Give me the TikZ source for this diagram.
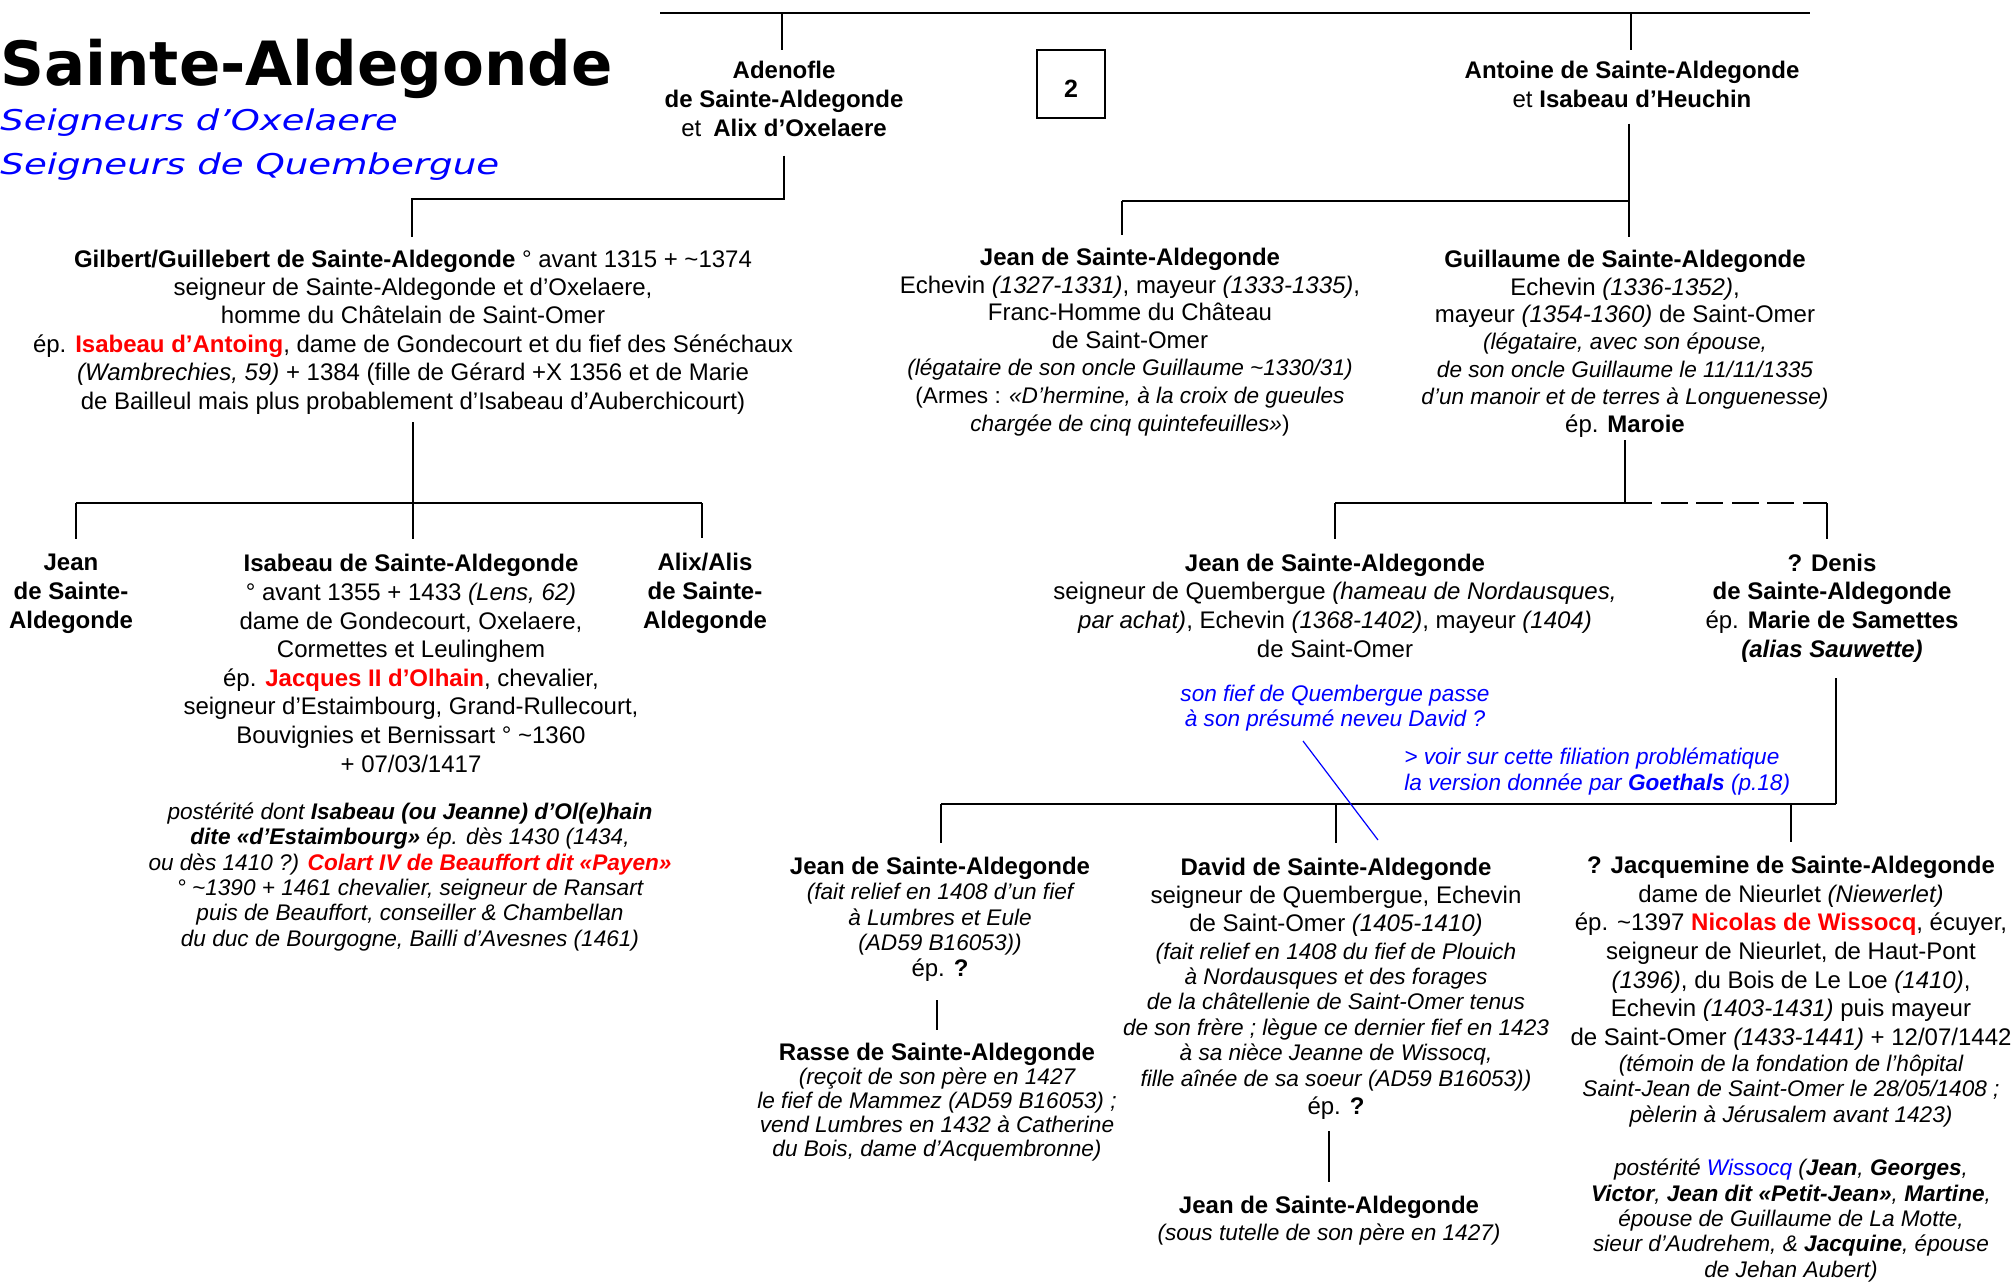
\documentclass[tikz,border=0pt]{standalone}
\usepackage{fontspec}
\usepackage{graphicx}
\setmainfont{Liberation Sans}
\newfontfamily\titlebold{DejaVu Sans Bold}
\newfontfamily\titleital{DejaVu Sans Oblique}
\definecolor{rd}{RGB}{255,0,0}
\definecolor{bl}{RGB}{0,0,255}
\newcommand\sm[1]{{\fontsize{11.3}{12.65}\selectfont\itshape #1}}
\begin{document}
\begin{tikzpicture}[x=0.5pt,y=-0.5pt,
  line/.style={line width=1.3pt},
  person/.style={align=center,anchor=base,inner sep=0pt,font=\fontsize{12}{14.3}\selectfont},
  note/.style={align=center,anchor=base,inner sep=0pt,font=\fontsize{11.3}{12.65}\selectfont\itshape},
  bluenote/.style={note,text=bl},
]
\path[use as bounding box] (0,0) rectangle (2013,1281);

% ---------- titles ----------
\node[anchor=base west,inner sep=0pt,font=\titlebold\fontsize{30.5}{36}\selectfont] (title) at (0,85) {Sainte-Aldegonde};
\node[anchor=base west,inner sep=0pt,text=bl,font=\titleital\fontsize{14.3}{17}\selectfont] (sub1) at (0,130) {\scalebox{1.29}[1]{Seigneurs d’Oxelaere}};
\node[anchor=base west,inner sep=0pt,text=bl,font=\titleital\fontsize{14.3}{17}\selectfont] (sub2) at (0,174) {\scalebox{1.3}[1]{Seigneurs de Quembergue}};
\node[draw,line width=0.8pt,minimum width=34pt,minimum height=34pt,inner sep=0pt] (box2) at (1071,84) {};
\node[inner sep=0pt,font=\bfseries\fontsize{12.5}{14}\selectfont] (box2t) at ([yshift=-2.5pt]box2.center) {2};

% ---------- generation 1 (anchor = baseline of last line) ----------
\node[person] (adenofle) at (784,136) {\textbf{Adenofle}\\\textbf{de Sainte-Aldegonde}\\et\enspace\textbf{Alix d’Oxelaere}};
\node[person] (antoine) at (1632,107) {\textbf{Antoine de Sainte-Aldegonde}\\et \textbf{Isabeau d’Heuchin}};

% ---------- generation 2 ----------
\node[person,font=\fontsize{12}{14.2}\selectfont] (gilbert) at (413,409) {\textbf{Gilbert/Guillebert de Sainte-Aldegonde} ° avant 1315 + \textasciitilde1374\\
seigneur de Sainte-Aldegonde et d’Oxelaere,\\
homme du Châtelain de Saint-Omer\\
ép. \textcolor{rd}{\textbf{Isabeau d’Antoing}}, dame de Gondecourt et du fief des Sénéchaux\\
\textit{(Wambrechies, 59)} + 1384 (fille de Gérard +X 1356 et de Marie\\
de Bailleul mais plus probablement d’Isabeau d’Auberchicourt)};

\node[person,font=\fontsize{12}{13.8}\selectfont] (jeanA) at (1130,431) {\textbf{Jean de Sainte-Aldegonde}\\
Echevin \textit{(1327-1331)}, mayeur \textit{(1333-1335)},\\
Franc-Homme du Château\\
de Saint-Omer\\
\sm{(légataire de son oncle Guillaume \textasciitilde1330/31)}\\
\sm{\upshape(Armes : \itshape«D’hermine, à la croix de gueules}\\
\sm{chargée de cinq quintefeuilles»\upshape)}};

\node[person,font=\fontsize{12}{13.7}\selectfont] (guil) at (1625,432) {\textbf{Guillaume de Sainte-Aldegonde}\\
Echevin \textit{(1336-1352)},\\
mayeur \textit{(1354-1360)} de Saint-Omer\\
\sm{(légataire, avec son épouse,}\\
\sm{de son oncle Guillaume le 11/11/1335}\\
\sm{d’un manoir et de terres à Longuenesse)}\\
ép. \textbf{Maroie}};

% ---------- generation 3 ----------
\node[person] (jean1) at (71,628) {\textbf{Jean}\\\textbf{de Sainte-}\\\textbf{Aldegonde}};
\node[person] (isabeau) at (411,772) {\textbf{Isabeau de Sainte-Aldegonde}\\
° avant 1355 + 1433 \textit{(Lens, 62)}\\
dame de Gondecourt, Oxelaere,\\
Cormettes et Leulinghem\\
ép. \textcolor{rd}{\textbf{Jacques II d’Olhain}}, chevalier,\\
seigneur d’Estaimbourg, Grand-Rullecourt,\\
Bouvignies et Bernissart ° \textasciitilde1360\\
+ 07/03/1417};
\node[person] (alix) at (705,628) {\textbf{Alix/Alis}\\\textbf{de Sainte-}\\\textbf{Aldegonde}};

\node[note] (post1) at (410,946) {postérité dont \textbf{Isabeau (ou Jeanne) d’Ol(e)hain}\\
\textbf{dite «d’Estaimbourg»} ép. dès 1430 (1434,\\
ou dès 1410 ?) \textcolor{rd}{\textbf{Colart IV de Beauffort dit «Payen»}}\\
° \textasciitilde1390 + 1461 chevalier, seigneur de Ransart\\
puis de Beauffort, conseiller \& Chambellan\\
du duc de Bourgogne, Bailli d’Avesnes (1461)};

\node[person] (jeanQ) at (1335,657) {\textbf{Jean de Sainte-Aldegonde}\\
seigneur de Quembergue \textit{(hameau de Nordausques,}\\
\textit{par achat)}, Echevin \textit{(1368-1402)}, mayeur \textit{(1404)}\\
de Saint-Omer};
\node[person] (denis) at (1832,657) {\textbf{? Denis}\\
\textbf{de Sainte-Aldegonde}\\
ép. \textbf{Marie de Samettes}\\
\textbf{\textit{(alias Sauwette)}}};

\node[bluenote,font=\fontsize{11.3}{12.5}\selectfont\itshape] (bn1) at (1335,726) {son fief de Quembergue passe\\à son présumé neveu David ?};
\node[bluenote,align=left,anchor=base west,font=\fontsize{11.3}{12.9}\selectfont\itshape] (bn2) at (1404,790) {> voir sur cette filiation problématique\\la version donnée par \textbf{Goethals} (p.18)};

% ---------- generation 4 ----------
\node[person,font=\fontsize{12}{12.7}\selectfont] (jeanR) at (940,976) {\textbf{Jean de Sainte-Aldegonde}\\
\sm{(fait relief en 1408 d’un fief}\\
\sm{à Lumbres et Eule}\\
\sm{(AD59 B16053))}\\
ép. \textbf{?}};
\node[person,font=\fontsize{12}{12}\selectfont] (rasse) at (937,1156) {\textbf{Rasse de Sainte-Aldegonde}\\
\sm{(reçoit de son père en 1427}\\
\sm{le fief de Mammez (AD59 B16053) ;}\\
\sm{vend Lumbres en 1432 à Catherine}\\
\sm{du Bois, dame d’Acquembronne)}};

\node[person,font=\fontsize{12}{14}\selectfont] (david) at (1336,1114) {\textbf{David de Sainte-Aldegonde}\\
seigneur de Quembergue, Echevin\\
de Saint-Omer \textit{(1405-1410)}\\
\sm{(fait relief en 1408 du fief de Plouich}\\[-1.3pt]
\sm{à Nordausques et des forages}\\[-1.3pt]
\sm{de la châtellenie de Saint-Omer tenus}\\[-1.3pt]
\sm{de son frère ; lègue ce dernier fief en 1423}\\[-1.3pt]
\sm{à sa nièce Jeanne de Wissocq,}\\[-1.3pt]
\sm{fille aînée de sa soeur (AD59 B16053))}\\
ép. \textbf{?}};
\node[person] (jeanD) at (1329,1240) {\textbf{Jean de Sainte-Aldegonde}\\[-0.8pt]
\sm{(sous tutelle de son père en 1427)}};

\node[person] (jacq) at (1791,1122) {\textbf{? Jacquemine de Sainte-Aldegonde}\\
dame de Nieurlet \textit{(Niewerlet)}\\
ép. \textasciitilde1397 \textcolor{rd}{\textbf{Nicolas de Wissocq}}, écuyer,\\
seigneur de Nieurlet, de Haut-Pont\\
\textit{(1396)}, du Bois de Le Loe \textit{(1410)},\\
Echevin \textit{(1403-1431)} puis mayeur\\
de Saint-Omer \textit{(1433-1441)} + 12/07/1442\\[-1.3pt]
\sm{(témoin de la fondation de l’hôpital}\\[-1.6pt]
\sm{Saint-Jean de Saint-Omer le 28/05/1408 ;}\\[-1.6pt]
\sm{pèlerin à Jérusalem avant 1423)}};

\node[note] (post2) at (1791,1277) {postérité \textcolor{bl}{Wissocq} (\textbf{Jean}, \textbf{Georges},\\
\textbf{Victor}, \textbf{Jean dit «Petit-Jean»}, \textbf{Martine},\\
épouse de Guillaume de La Motte,\\
sieur d’Audrehem, \& \textbf{Jacquine}, épouse\\
de Jehan Aubert)};

% ---------- connectors ----------
\coordinate (tL) at (660,13);
\coordinate (tR) at (1810,13);
\coordinate (tA) at (782,13);
\coordinate (tB) at (1631,13);
\draw[line] (tL) -- (tR);
\draw[line,shorten >=5.5pt] (tA) -- (tA |- adenofle.north);
\draw[line,shorten >=5.5pt] (tB) -- (tB |- antoine.north);

\coordinate (jGi) at (412,199);
\draw[line,shorten <=9.5pt,shorten >=6pt] (adenofle.south) |- (jGi) -- (jGi |- gilbert.north);

\coordinate (b2L) at (76,503);
\coordinate (b2M) at (413,503);
\coordinate (b2R) at (702,503);
\draw[line,shorten <=4pt] (b2M |- gilbert.south) -- (b2M);
\draw[line] (b2L) -- (b2R);
\draw[line,shorten >=7.5pt] (b2L) -- (b2L |- jean1.north);
\draw[line,shorten >=7.5pt] (b2M) -- (b2M |- isabeau.north);
\draw[line,shorten >=7.5pt] (b2R) -- (b2R |- alix.north);

\coordinate (b1L) at (1122,201);
\coordinate (b1R) at (1629,201);
\draw[line,shorten <=8pt] (b1R |- antoine.south) -- (b1R);
\draw[line] (b1L) -- (b1R);
\draw[line,shorten >=6.5pt] (b1L) -- (b1L |- jeanA.north);
\draw[line,shorten >=6.5pt] (b1R) -- (b1R |- guil.north);

\coordinate (b3L) at (1335,503);
\coordinate (b3M) at (1625,503);
\coordinate (b3R) at (1827,503);
\draw[line,shorten <=1.5pt] (b3M |- guil.south) -- (b3M);
\draw[line] (b3L) -- (b3M);
\draw[line,dash pattern=on 13.5pt off 4.3pt] (b3M) -- (b3R);
\draw[line,shorten >=7pt] (b3L) -- (b3L |- jeanQ.north);
\draw[line,shorten >=7pt] (b3R) -- (b3R |- denis.north);

\coordinate (b4L) at (941,804);
\coordinate (b4D) at (1336,804);
\coordinate (b4J) at (1791,804);
\coordinate (b4R) at (1836,804);
\draw[line,shorten <=8pt] (b4R |- denis.south) -- (b4R);
\draw[line] (b4L) -- (b4R);
\draw[line,shorten >=7pt] (b4L) -- (b4L |- jeanR.north);
\draw[line,shorten >=7pt] (b4D) -- (b4D |- david.north);
\draw[line,shorten >=7pt] (b4J) -- (b4J |- jacq.north);

\draw[line,shorten <=9.5pt,shorten >=6pt] (rasse.north |- jeanR.south) -- (rasse.north);
\draw[line,shorten <=6pt,shorten >=6.5pt] (jeanD.north |- david.south) -- (jeanD.north);

\coordinate (bl1) at (1303,741);
\coordinate (bl2) at (1378,840);
\draw[bl,line width=0.6pt] (bl1) -- (bl2);
\end{tikzpicture}
\end{document}
